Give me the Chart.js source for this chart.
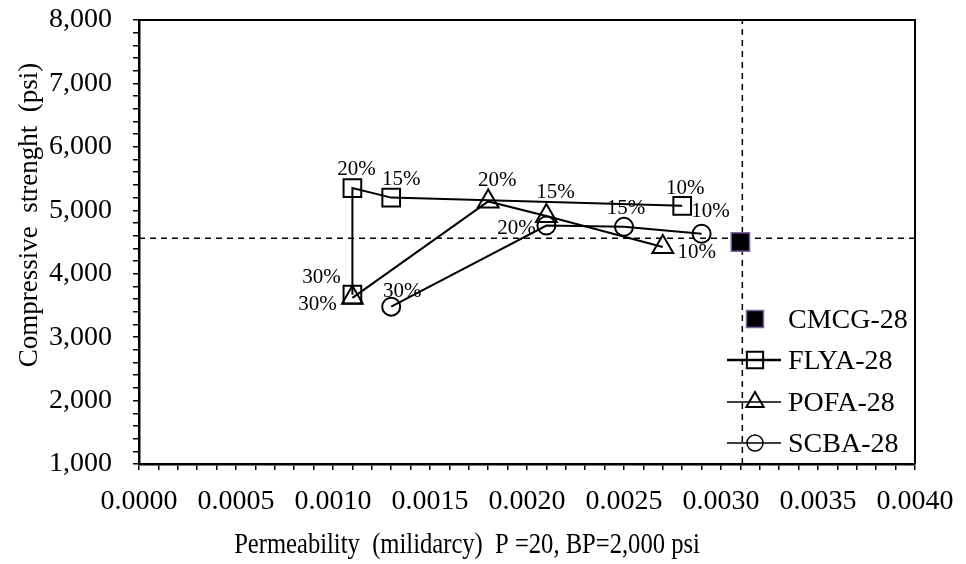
<!DOCTYPE html>
<html>
<head>
<meta charset="utf-8">
<script src="https://cdn.jsdelivr.net/npm/chart.js@4/dist/chart.umd.min.js"></script>
<style>
  html, body { margin: 0; padding: 0; background: #ffffff; }
  canvas { display: block; }
</style>
</head>
<body>
<canvas id="chart" width="966" height="564"></canvas>
<script>
// Replacement level of each point (same order in every series)
const replacement = ['10%', '15%', '20%', '30%'];

// Fly ash mixes
const flyaPerm = [0.0028, 0.0013, 0.0011, 0.0011];
const flyaStrength = [5070, 5200, 5350, 3670];

// Palm oil fuel ash mixes
const pofaPerm = [0.0027, 0.0021, 0.0018, 0.0011];
const pofaStrength = [4420, 4910, 5140, 3620];

// Sugar cane bagasse ash mixes
const scbaPerm = [0.0029, 0.0025, 0.0021, 0.0013];
const scbaStrength = [4630, 4740, 4760, 3480];

// Control mix
const cmcgPerm = [0.0031];
const cmcgStrength = [4500];

// Reference (control) lines
const refPerm = 0.00311;
const refStrength = 4560;

// Axis ranges
const permRange = [0, 0.004];
const strengthRange = [1000, 8000];

const SERIF = '"Liberation Serif", "Times New Roman", serif';

// Label placement relative to each point, in pixels
const labelOffsets = {
  FLYA: [[3, -17], [10, -18], [4, -19], [-31, -17]],
  POFA: [[34, 5], [9, -24], [9, -21], [-35, 7]],
  SCBA: [[9, -22], [2, -18], [-30, 3], [11, -15]]
};

function pts(xs, ys) { return xs.map((x, i) => ({ x: x, y: ys[i] })); }

const seriesStyle = {
  borderColor: '#000000',
  backgroundColor: 'rgba(0,0,0,0)',
  borderWidth: 2,
  pointBorderWidth: 2,
  pointBorderColor: '#000000',
  pointBackgroundColor: 'rgba(0,0,0,0)',
  showLine: true,
  tension: 0
};

const datasets = [
  Object.assign({ label: 'FLYA-28', key: 'FLYA', data: pts(flyaPerm, flyaStrength),
    pointStyle: 'rect', pointRadius: 12.5, pointHoverRadius: 12.5 }, seriesStyle),
  Object.assign({ label: 'POFA-28', key: 'POFA', data: pts(pofaPerm, pofaStrength),
    pointStyle: 'triangle', pointRadius: 12, pointHoverRadius: 12 }, seriesStyle),
  Object.assign({ label: 'SCBA-28', key: 'SCBA', data: pts(scbaPerm, scbaStrength),
    pointStyle: 'circle', pointRadius: 9, pointHoverRadius: 9 }, seriesStyle),
  { label: 'CMCG-28', key: 'CMCG', data: pts(cmcgPerm, cmcgStrength),
    pointStyle: 'rect', pointRadius: 13, pointHoverRadius: 13,
    pointBackgroundColor: '#000000', pointBorderColor: '#7d64a4', pointBorderWidth: 1.5,
    showLine: false },
  { label: 'refH', key: 'REF', data: [{ x: permRange[0], y: refStrength }, { x: permRange[1], y: refStrength }],
    showLine: true, borderColor: '#000000', borderWidth: 1.5, borderDash: [6, 5], pointRadius: 0 },
  { label: 'refV', key: 'REF', data: [{ x: refPerm, y: strengthRange[0] }, { x: refPerm, y: strengthRange[1] }],
    showLine: true, borderColor: '#000000', borderWidth: 1.5, borderDash: [6, 5], pointRadius: 0 }
];

// Percentage labels next to the points
const pointLabels = {
  id: 'pointLabels',
  afterDatasetsDraw(chart) {
    const ctx = chart.ctx;
    ctx.save();
    ctx.font = '21px ' + SERIF;
    ctx.fillStyle = '#000000';
    ctx.textAlign = 'center';
    ctx.textBaseline = 'middle';
    chart.data.datasets.forEach((ds, di) => {
      const offs = labelOffsets[ds.key];
      if (!offs) return;
      chart.getDatasetMeta(di).data.forEach((el, i) => {
        ctx.fillText(replacement[i], el.x + offs[i][0], el.y + offs[i][1]);
      });
    });
    ctx.restore();
  }
};

// Box around the plot, axis titles and the legend
const frameAndLegend = {
  id: 'frameAndLegend',
  afterDraw(chart) {
    const ctx = chart.ctx;
    const a = chart.chartArea;
    ctx.save();
    ctx.strokeStyle = '#000000';
    ctx.lineWidth = 2;
    ctx.beginPath();
    ctx.moveTo(a.left, a.top);
    ctx.lineTo(a.right, a.top);
    ctx.lineTo(a.right, a.bottom);
    ctx.stroke();

    // axis titles (narrow, tall lettering)
    ctx.fillStyle = '#000000';
    ctx.textAlign = 'center';
    ctx.textBaseline = 'alphabetic';
    ctx.save();
    ctx.translate(467, 553);
    ctx.scale(0.82, 1);
    ctx.font = '30px ' + SERIF;
    ctx.fillText('Permeability  (milidarcy)  P =20, BP=2,000 psi', 0, 0);
    ctx.restore();

    ctx.save();
    ctx.translate(30, 215);
    ctx.rotate(-Math.PI / 2);
    ctx.textBaseline = 'middle';
    ctx.font = '27px ' + SERIF;
    ctx.fillText('Compressive  strenght  (psi)', 0, 0);
    ctx.restore();

    // legend
    const rows = [
      { text: 'CMCG-28', style: 'rect', r: 12, fill: '#000000', stroke: '#7d64a4', lw: 1.5, line: 0 },
      { text: 'FLYA-28', style: 'rect', r: 11.5, fill: null, stroke: '#000000', lw: 2, line: 2.5 },
      { text: 'POFA-28', style: 'triangle', r: 10, fill: null, stroke: '#000000', lw: 2, line: 1.5 },
      { text: 'SCBA-28', style: 'circle', r: 8, fill: null, stroke: '#000000', lw: 1.5, line: 1.5 }
    ];
    const rowY = [319, 360, 402, 443];
    const mx = 755;
    rows.forEach((row, i) => {
      const y = rowY[i];
      if (row.line) {
        ctx.lineWidth = row.line;
        ctx.strokeStyle = '#000000';
        ctx.beginPath();
        ctx.moveTo(727, y);
        ctx.lineTo(781, y);
        ctx.stroke();
      }
      ctx.lineWidth = row.lw;
      ctx.strokeStyle = row.stroke;
      ctx.beginPath();
      if (row.style === 'rect') {
        const s = row.r * Math.SQRT1_2;
        ctx.rect(mx - s, y - s, 2 * s, 2 * s);
      } else if (row.style === 'triangle') {
        const r = row.r;
        ctx.moveTo(mx, y - r);
        ctx.lineTo(mx + r * Math.sin(Math.PI / 3), y + r / 2);
        ctx.lineTo(mx - r * Math.sin(Math.PI / 3), y + r / 2);
        ctx.closePath();
      } else {
        ctx.arc(mx, y, row.r, 0, Math.PI * 2);
      }
      if (row.fill) { ctx.fillStyle = row.fill; ctx.fill(); }
      ctx.stroke();
      ctx.fillStyle = '#000000';
      ctx.font = '28px ' + SERIF;
      ctx.textAlign = 'left';
      ctx.textBaseline = 'middle';
      ctx.fillText(row.text, 788, y + 2);
    });
    ctx.restore();
  }
};

new Chart(document.getElementById('chart'), {
  type: 'scatter',
  data: { datasets: datasets },
  options: {
    responsive: false,
    animation: false,
    devicePixelRatio: 1,
    layout: { padding: { left: 0, top: 20, right: 51, bottom: 0 } },
    plugins: {
      legend: { display: false },
      tooltip: { enabled: false },
      title: { display: false }
    },
    scales: {
      x: {
        type: 'linear',
        min: permRange[0],
        max: permRange[1],
        afterFit(scale) {
          scale.height = 100;
          scale.paddingLeft = 0;
          scale.paddingRight = 0;
        },
        border: { display: true, color: '#000000', width: 2.5 },
        grid: { drawOnChartArea: false, drawTicks: true, tickLength: 6, color: '#000000', lineWidth: 1.5 },
        ticks: {
          stepSize: 0.0001,
          autoSkip: false,
          maxRotation: 0,
          minRotation: 0,
          padding: 15,
          color: '#000000',
          font: { family: SERIF, size: 28 },
          callback(v) {
            const k = Math.round(v * 10000);
            return k % 5 === 0 ? (k / 10000).toFixed(4) : '';
          }
        }
      },
      y: {
        type: 'linear',
        min: strengthRange[0],
        max: strengthRange[1],
        afterFit(scale) {
          scale.width = 139;
          scale.paddingTop = 0;
          scale.paddingBottom = 0;
        },
        border: { display: true, color: '#000000', width: 2.5 },
        grid: { drawOnChartArea: false, drawTicks: true, tickLength: 6, color: '#000000', lineWidth: 1.5 },
        ticks: {
          stepSize: 200,
          autoSkip: false,
          padding: 21,
          color: '#000000',
          font: { family: SERIF, size: 28 },
          callback(v) {
            return Math.round(v) % 1000 === 0 ? Math.round(v).toLocaleString('en-US') : '';
          }
        }
      }
    }
  },
  plugins: [pointLabels, frameAndLegend]
});
</script>
</body>
</html>
